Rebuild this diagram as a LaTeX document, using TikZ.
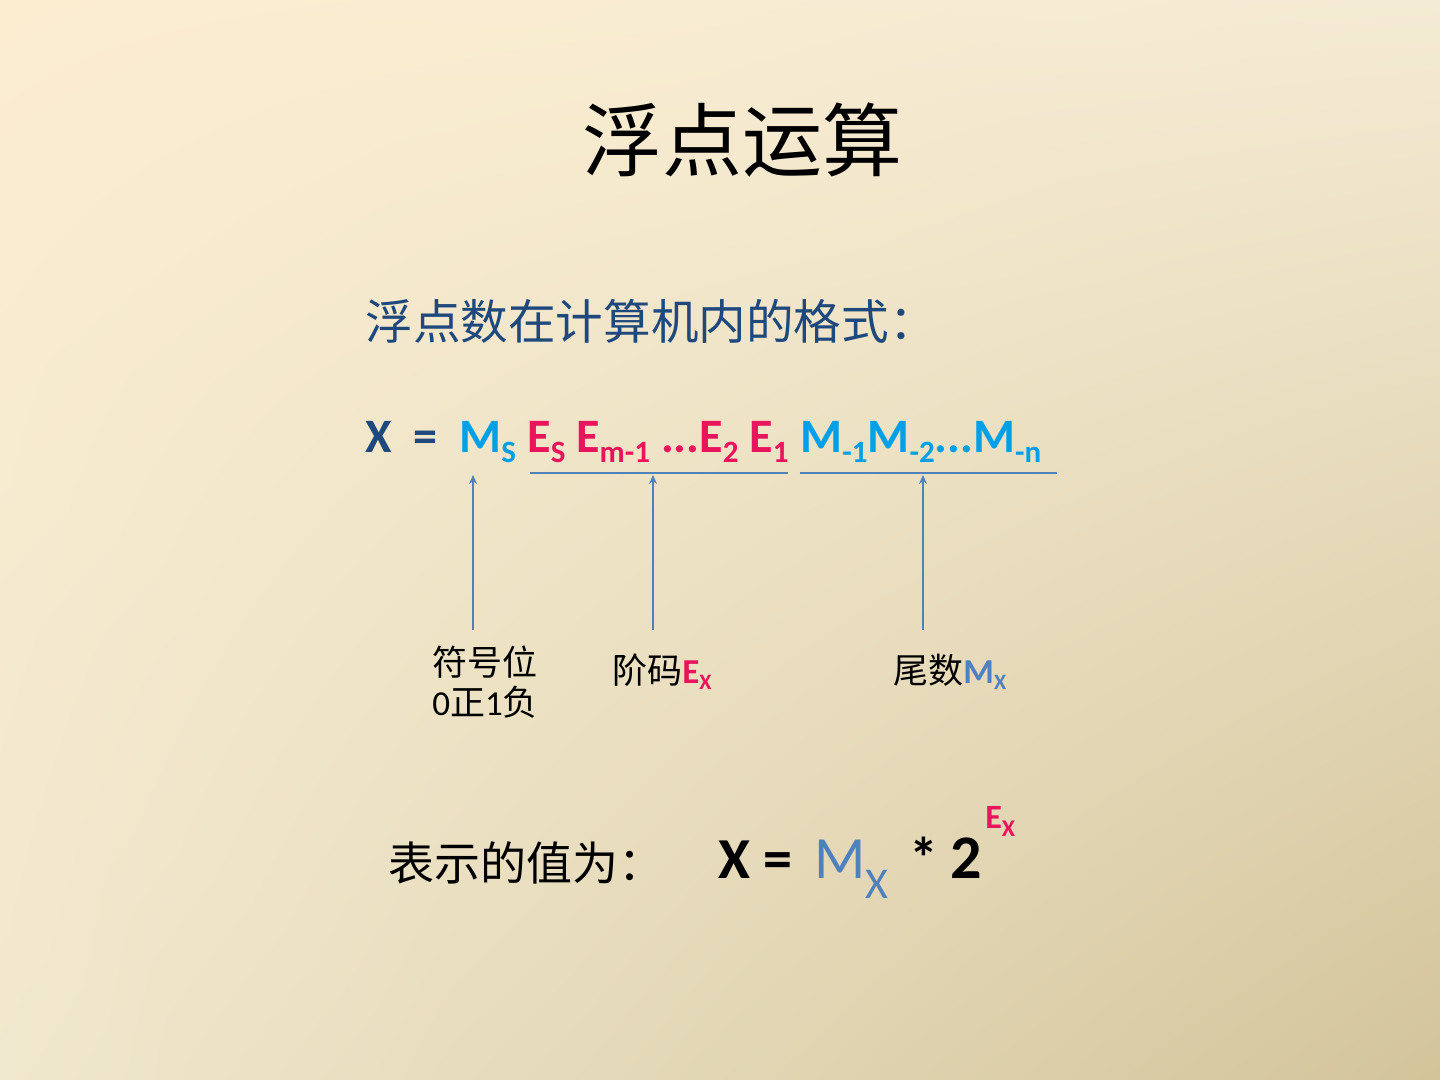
\documentclass[tikz,border=0pt]{standalone}
\usepackage{fontspec}
\setmainfont{Carlito}
\newfontfamily\cjk{Noto Sans CJK SC}
\usetikzlibrary{arrows.meta,shadings}
\definecolor{slidetl}{RGB}{252,237,209}
\definecolor{slidetr}{RGB}{244,235,212}
\definecolor{slidebl}{RGB}{240,232,206}
\definecolor{slidebr}{RGB}{211,196,154}
\definecolor{navy}{RGB}{31,73,125}
\definecolor{cyanblue}{RGB}{0,160,233}
\definecolor{magenta}{RGB}{232,20,92}
\definecolor{steelblue}{RGB}{79,129,189}
\tikzstyle{txt}=[inner sep=0pt, anchor=base west]
\tikzstyle{fieldline}=[draw=steelblue, line width=0.8pt]
\tikzstyle{fieldarrow}=[fieldline, -{Stealth[length=4.5pt,width=4pt]}]
\newcommand{\lowidx}[3]{\raisebox{-#1}{\fontsize{#2}{#2}\selectfont #3}}
\newcommand{\fieldarrow}[2]{
	\coordinate (#1 foot) at (#2,630);
	\coordinate (#1 head) at (#2,475);
	\draw[fieldarrow] (#1 foot) -- (#1 head);}

\begin{document}
\begin{tikzpicture}[x=0.5pt, y=-0.5pt]
	\shade[upper left=slidetl, upper right=slidetr, lower left=slidebl, lower right=slidebr] (0,0) rectangle (1440,1080);
	\useasboundingbox (0,0) rectangle (1440,1080);

	\node[font=\cjk\fontsize{40}{48}\selectfont] (title) at (742,140) {浮点运算};
	\node[txt, font=\cjk\fontsize{23.8}{28}\selectfont, text=navy] (heading) at (365,340) {浮点数在计算机内的格式：};

	% X = Ms Es ... E1 M-1 ... M-n
	\node[txt, font=\fontsize{24}{30}\bfseries, text=navy] (fx) at (365,452) {X};
	\node[txt, font=\fontsize{24}{30}\bfseries, text=navy] (feq) at (413,452) {=};
	\node[txt, font=\fontsize{24}{30}\bfseries, text=cyanblue] (ms) at (459,452) {M\lowidx{5pt}{15.5}{S}};
	\node[txt, font=\fontsize{24}{30}\bfseries, text=magenta] (egrp) at (527,452) {E\lowidx{5pt}{15.5}{S} E\lowidx{5pt}{15.5}{m-1} ...E\lowidx{5pt}{15.5}{2} E\lowidx{5pt}{15.5}{1}};
	\node[txt, font=\fontsize{24}{30}\bfseries, text=cyanblue] (mgrp) at (800,452) {M\lowidx{5pt}{15.5}{-1}M\lowidx{5pt}{15.5}{-2}...M\lowidx{5pt}{15.5}{-n}};

	\coordinate (eL) at (530,473);
	\coordinate (eR) at (788,473);
	\coordinate (mL) at (800,473);
	\coordinate (mR) at (1057,473);
	\draw[fieldline] (eL) -- (eR);
	\draw[fieldline] (mL) -- (mR);

	\fieldarrow{sign}{473}
	\fieldarrow{expo}{653}
	\fieldarrow{mant}{923}

	\node[inner sep=0pt, anchor=north west, align=left, font=\fontsize{17.5}{20}\selectfont] (sign) at (432,645) {{\cjk 符号位}\\0{\cjk 正}1{\cjk 负}};
	\node[txt, font=\fontsize{17.5}{20}\selectfont] (expo) at (612,683) {{\cjk 阶码}\textcolor{magenta}{\bfseries E\lowidx{3pt}{11}{X}}};
	\node[txt, font=\fontsize{17.5}{20}\selectfont] (mant) at (893,683) {{\cjk 尾数}\textcolor{steelblue}{\bfseries M\lowidx{3pt}{11}{X}}};

	% value of X
	\node[txt, font=\cjk\fontsize{23}{26}\selectfont] (value) at (388,880) {表示的值为：};
	\node[txt, font=\fontsize{29}{34}\bfseries] (vx) at (718,878) {X =};
	\node[txt, font=\fontsize{30}{34}\selectfont, text=steelblue] (vm) at (814,878) {M\lowidx{10pt}{22}{X}};
	\node[txt, font=\fontsize{29}{34}\bfseries] (vstar) at (909,878) {*};
	\node[txt, font=\fontsize{31}{34}\bfseries] (vtwo) at (950,878) {2};
	\node[txt, font=\fontsize{17}{20}\bfseries, text=magenta] (vexp) at (985,828) {E\lowidx{4pt}{12}{X}};
\end{tikzpicture}
\end{document}
